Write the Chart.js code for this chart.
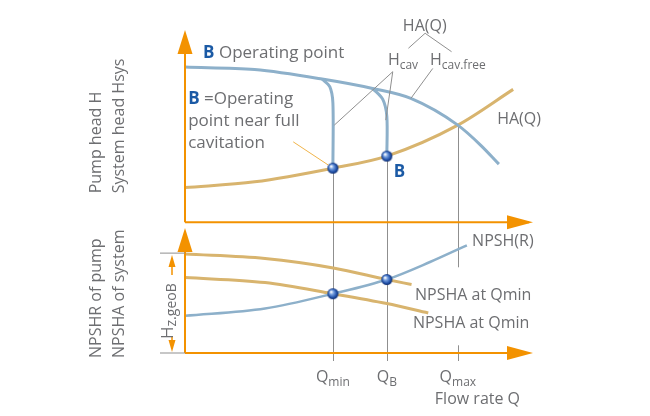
<!DOCTYPE html>
<html>
<head>
<meta charset="utf-8">
<script src="https://cdn.jsdelivr.net/npm/chart.js@4"></script>
<style>
  body { margin: 0; background: #fff; }
</style>
</head>
<body>
<canvas id="pumpChart" width="650" height="416"></canvas>
<script>
// Flow rate marks: Qmin, QB, Qmax
const qMarks = [42.5, 58, 78.4];
const qLabels = [["Q", "min"], ["Q", "B"], ["Q", "max"]];

// Upper plot: pump head H and system head HA
const pumpQ = [0, 20, 39.4, 53.9, 64.9, 78.4, 85, 90.2];
const pumpH = [80.7, 79.4, 74.5, 69.6, 64.4, 50.5, 40, 30.2];
const cavMinQ = [39.4, 41.6, 42.5, 42.5];
const cavMinH = [74.5, 70.5, 62, 28.1];
const cavBQ = [53.9, 56.8, 58, 58];
const cavBH = [69.6, 64, 55, 34.4];
const sysQ = [0, 20, 42.5, 58, 78.4, 94.3];
const sysH = [18, 21, 28.1, 34.4, 50.5, 69.1];
const opTopH = [28.1, 34.4];

// Lower plot: NPSHR of pump, NPSHA of system
const npshrQ = [0, 23, 42.5, 58, 70.4, 81];
const npshrV = [19.3, 23.1, 30.8, 38.2, 47.3, 56];
const npshaBQ = [0, 23, 42.6, 58, 65.1];
const npshaBV = [51.4, 49.1, 44.2, 38.2, 35.6];
const npshaMinQ = [0, 23, 42.5, 58, 69.9];
const npshaMinV = [39.2, 36.6, 30.8, 25.7, 20.8];
const opBotV = [30.8, 38.2];

const BLUE = "#8db0ca";
const TAN = "#d8b46e";
const ORANGE = "#f39200";
const GRID = "#8f8f8f";
const TXT = "#6d6e71";
const BTXT = "#1b5aa5";
const FONT = "'Open Sans', sans-serif";

const pts = (xs, ys) => xs.map((x, i) => ({ x: x, y: ys[i] }));

function makeBall(r) {
  const c = document.createElement("canvas");
  c.width = c.height = 2 * r + 2;
  const g = c.getContext("2d");
  const m = r + 1;
  const grad = g.createRadialGradient(m - r * 0.35, m - r * 0.35, r * 0.1, m, m, r);
  grad.addColorStop(0, "#ffffff");
  grad.addColorStop(0.3, "#7aa3e2");
  grad.addColorStop(0.75, "#1f4fa8");
  grad.addColorStop(1, "#0e2c6c");
  g.fillStyle = grad;
  g.beginPath();
  g.arc(m, m, r, 0, 2 * Math.PI);
  g.fill();
  return c;
}
const ball = makeBall(5.5);

// text made of runs, e.g. H + subscript
function rich(ctx, x, y, segs, align) {
  let w = 0;
  segs.forEach(s => { ctx.font = s.font; w += ctx.measureText(s.t).width; });
  let cx = align === "center" ? x - w / 2 : x;
  ctx.textAlign = "left";
  ctx.textBaseline = "alphabetic";
  segs.forEach(s => {
    ctx.font = s.font;
    ctx.fillStyle = s.color || TXT;
    ctx.fillText(s.t, cx, y + (s.dy || 0));
    cx += ctx.measureText(s.t).width;
  });
  return w;
}
const F = (size, bold) => (bold ? "bold " : "") + size + "px " + FONT;
const sub = (main, s, size) => [
  { t: main, font: F(size) },
  { t: s, font: F(Math.round(size * 0.75)), dy: 4 }
];

function line(ctx, x1, y1, x2, y2, color, w) {
  ctx.strokeStyle = color;
  ctx.lineWidth = w;
  ctx.beginPath();
  ctx.moveTo(x1, y1);
  ctx.lineTo(x2, y2);
  ctx.stroke();
}
function tri(ctx, tipX, tipY, dir, len, half) {
  ctx.fillStyle = ORANGE;
  ctx.beginPath();
  if (dir === "up") {
    ctx.moveTo(tipX, tipY); ctx.lineTo(tipX - half, tipY + len); ctx.lineTo(tipX + half, tipY + len);
  } else if (dir === "down") {
    ctx.moveTo(tipX, tipY); ctx.lineTo(tipX - half, tipY - len); ctx.lineTo(tipX + half, tipY - len);
  } else {
    ctx.moveTo(tipX, tipY); ctx.lineTo(tipX - len, tipY - half); ctx.lineTo(tipX - len, tipY + half);
  }
  ctx.closePath();
  ctx.fill();
}

const diagram = {
  id: "diagram",
  beforeDatasetsDraw(chart) {
    const ctx = chart.ctx;
    const s = chart.scales;
    const yBottom = s.yN.getPixelForValue(0);
    const tops = [opTopH[0], opTopH[1], 50.5];
    ctx.save();
    qMarks.forEach((q, i) => {
      const x = Math.round(s.x.getPixelForValue(q)) + 0.5;
      line(ctx, x, s.yH.getPixelForValue(tops[i]), x, yBottom + 8, GRID, 1);
    });
    // white backing behind the NPSHA labels
    ctx.fillStyle = "#fff";
    const lx = s.x.getPixelForValue(65.5);
    ctx.fillRect(lx, s.yN.getPixelForValue(27.4) - 33, 130, 78);
    ctx.restore();
  },
  afterDatasetsDraw(chart) {
    const ctx = chart.ctx;
    const s = chart.scales;
    const X = v => s.x.getPixelForValue(v);
    const YH = v => s.yH.getPixelForValue(v);
    const YN = v => s.yN.getPixelForValue(v);
    const x0 = X(0), xEnd = X(100);
    ctx.save();

    // orange axes with arrow heads
    line(ctx, x0, YH(100) + 4, x0, YH(0), ORANGE, 2);
    line(ctx, x0, YH(0), xEnd - 4, YH(0), ORANGE, 2);
    tri(ctx, x0, YH(100), "up", 24, 7.5);
    tri(ctx, xEnd, YH(0), "right", 26, 7);
    line(ctx, x0, YN(65) + 4, x0, YN(0), ORANGE, 2);
    line(ctx, x0, YN(0), xEnd - 4, YN(0), ORANGE, 2);
    tri(ctx, x0, YN(65), "up", 24, 7.5);
    tri(ctx, xEnd, YN(0), "right", 26, 7);

    // H z.geoB dimension
    const yTop = YN(npshaBV[0]) - 1, y0 = YN(0);
    line(ctx, x0 - 25, yTop, x0, yTop, GRID, 1);
    line(ctx, x0 - 25, y0, x0, y0, GRID, 1);
    const dx = x0 - 13;
    tri(ctx, dx, yTop + 2, "up", 12, 3.5);
    line(ctx, dx, yTop + 12, dx, yTop + 22, ORANGE, 1.5);
    tri(ctx, dx, y0 - 1, "down", 12, 3.5);
    line(ctx, dx, y0 - 16, dx, y0 - 12, ORANGE, 1.5);
    ctx.save();
    ctx.translate(dx + 1, y0 - 14);
    ctx.rotate(-Math.PI / 2);
    rich(ctx, 0, 0, [
      { t: "H", font: F(17) },
      { t: "z.geoB", font: F(14), dy: 3 }
    ]);
    ctx.restore();

    // thin gray leader lines
    const leaders = [
      [69, 98.3, 64.2, 90.5], [69, 98.3, 76.6, 88.7],
      [59.7, 78.3, 42.9, 50.5], [59.7, 78.3, 57.7, 53.1],
      [71.2, 80, 64.9, 64.4]
    ];
    leaders.forEach(l => line(ctx, X(l[0]), YH(l[1]), X(l[2]), YH(l[3]), GRID, 1));
    line(ctx, X(31.1), YH(41.8), X(41.2), YH(29.7), "#f0b44a", 1);

    // texts in the upper plot
    rich(ctx, X(5.2), YH(85.4), [
      { t: "B", font: F(17, true), color: BTXT },
      { t: " Operating point", font: F(17) }
    ]);
    rich(ctx, X(0.9), YH(61.5), [
      { t: "B", font: F(17, true), color: BTXT },
      { t: " =Operating", font: F(17) }
    ]);
    rich(ctx, X(0.9), YH(50), [{ t: "point near full", font: F(17) }]);
    rich(ctx, X(0.9), YH(38.5), [{ t: "cavitation", font: F(17) }]);
    rich(ctx, X(60), YH(23.4), [{ t: "B", font: F(17, true), color: BTXT }]);
    rich(ctx, X(62.6), YH(99.5), [{ t: "HA(Q)", font: F(16) }]);
    rich(ctx, X(58.3), YH(81.8), sub("H", "cav", 16));
    rich(ctx, X(70.4), YH(81.8), sub("H", "cav.free", 16));
    rich(ctx, X(89.7), YH(51), [{ t: "HA(Q)", font: F(16) }]);

    // texts in the lower plot
    rich(ctx, X(82.5), YN(55.8), [{ t: "NPSH(R)", font: F(16) }]);
    rich(ctx, X(66.1), YN(27.4), [{ t: "NPSHA at Qmin", font: F(16) }]);
    rich(ctx, X(65.5), YN(13.1), [{ t: "NPSHA at Qmin", font: F(16) }]);

    // x labels
    qMarks.forEach((q, i) => {
      rich(ctx, X(q), y0 + 29, sub(qLabels[i][0], qLabels[i][1], 16), "center");
    });
    rich(ctx, X(71.8), y0 + 51, [{ t: "Flow rate Q", font: F(16) }]);

    // rotated axis titles
    const vtext = (t, bx, by) => {
      ctx.save();
      ctx.translate(bx, by);
      ctx.rotate(-Math.PI / 2);
      rich(ctx, 0, 0, [{ t: t, font: F(16) }]);
      ctx.restore();
    };
    vtext("Pump head H", 101, YH(15));
    vtext("System head Hsys", 124, YH(15));
    vtext("NPSHR of pump", 101, y0 + 5);
    vtext("NPSHA of system", 124, y0 + 5);

    ctx.restore();
  }
};

const curve = (data, axis, color, width, mono) => ({
  data: data,
  yAxisID: axis,
  borderColor: color,
  borderWidth: width,
  pointRadius: 0,
  fill: false,
  tension: mono ? 0.4 : 0.3,
  cubicInterpolationMode: mono ? "monotone" : "default"
});

const pointSet = (ys, axis) => ({
  data: pts([qMarks[0], qMarks[1]], ys),
  yAxisID: axis,
  showLine: false,
  pointStyle: ball,
  pointRadius: 5.5
});

const hiddenAxis = (min, max, weight) => ({
  type: "linear",
  position: "left",
  stack: "plots",
  stackWeight: weight,
  min: min,
  max: max,
  grid: { display: false },
  border: { display: false },
  ticks: { display: false }
});

const ctx = document.getElementById("pumpChart").getContext("2d");
const pumpChart = new Chart(ctx, {
  type: "line",
  data: {
    datasets: [
      pointSet(opTopH, "yH"),
      pointSet(opBotV, "yN"),
      curve(pts(cavMinQ, cavMinH), "yH", BLUE, 3, false),
      curve(pts(cavBQ, cavBH), "yH", BLUE, 3, false),
      curve(pts(pumpQ, pumpH), "yH", BLUE, 3, true),
      curve(pts(sysQ, sysH), "yH", TAN, 3, true),
      curve(pts(npshrQ, npshrV), "yN", BLUE, 2.5, true),
      curve(pts(npshaBQ, npshaBV), "yN", TAN, 3, true),
      curve(pts(npshaMinQ, npshaMinV), "yN", TAN, 3, true)
    ]
  },
  options: {
    responsive: false,
    animation: false,
    events: [],
    layout: { padding: { left: 177, right: 117, top: 30, bottom: 55 } },
    plugins: { legend: { display: false }, tooltip: { enabled: false } },
    scales: {
      x: {
        type: "linear",
        min: 0,
        max: 100,
        grid: { display: false },
        border: { display: false },
        ticks: { display: false }
      },
      // listed bottom first: the layout stacks them upwards in this order
      yN: hiddenAxis(0, 68, 130.7),
      yH: hiddenAxis(0, 100, 192)
    }
  },
  plugins: [diagram]
});
</script>
</body>
</html>
